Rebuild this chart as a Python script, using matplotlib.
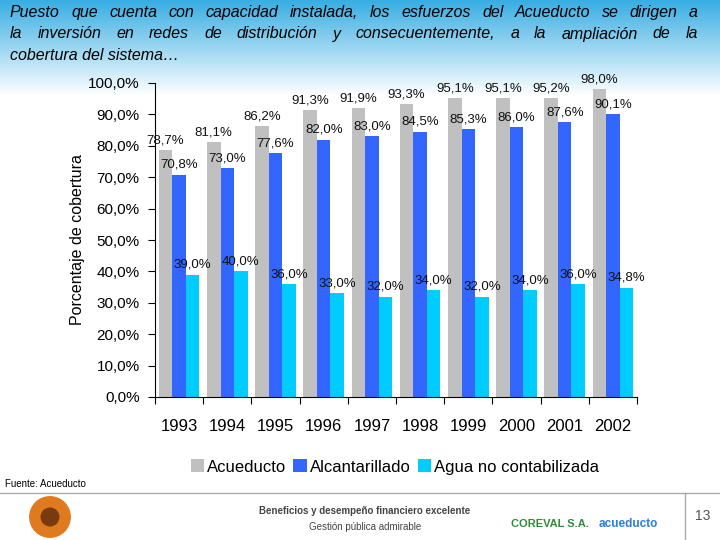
import numpy as np
import matplotlib
matplotlib.use("Agg")
import matplotlib.pyplot as plt
from matplotlib.patches import Circle, Patch

years = ["1993", "1994", "1995", "1996", "1997", "1998", "1999", "2000", "2001", "2002"]
acueducto = [78.7, 81.1, 86.2, 91.3, 91.9, 93.3, 95.1, 95.1, 95.2, 98.0]
alcantarillado = [70.8, 73.0, 77.6, 82.0, 83.0, 84.5, 85.3, 86.0, 87.6, 90.1]
agua_no_contab = [39.0, 40.0, 36.0, 33.0, 32.0, 34.0, 32.0, 34.0, 36.0, 34.8]

series = [
    ("Acueducto", acueducto, "#c0c0c0"),
    ("Alcantarillado", alcantarillado, "#3366ff"),
    ("Agua no contabilizada", agua_no_contab, "#00ccff"),
]

plt.rcParams["font.family"] = ["Liberation Sans", "DejaVu Sans"]

fig = plt.figure(figsize=(7.2, 5.4), dpi=100)

# ── background gradient (blue at top fading to white) ────────────────────────
bg = fig.add_axes([0, 0, 1, 1], zorder=-10)
h = 540
grad = np.ones((h, 1, 3))
top = np.array([0.22, 0.68, 0.89])
fade = 95
for i in range(fade):
    t = i / fade
    grad[i, 0, :] = top * (1 - t) + np.array([1.0, 1.0, 1.0]) * t
bg.imshow(grad, aspect="auto", extent=[0, 1, 0, 1])
bg.set_axis_off()

# ── title (justified like the slide) ─────────────────────────────────────────
title_lines = [
    "Puesto que cuenta con capacidad instalada, los esfuerzos del Acueducto se dirigen a",
    "la inversión en redes de distribución y consecuentemente, a la ampliación de la",
    "cobertura del sistema…",
]
renderer = fig.canvas.get_renderer()
x0, x1 = 10 / 720, 698 / 720
for k, line in enumerate(title_lines):
    y = 1 - (17 + 21.5 * k) / 540
    if k == len(title_lines) - 1:
        fig.text(x0, y, line, fontsize=11.5, style="italic", va="baseline", ha="left")
        continue
    words = line.split(" ")
    objs = [fig.text(0, y, w, fontsize=11.5, style="italic", va="baseline", ha="left") for w in words]
    widths = [o.get_window_extent(renderer).width / 720 for o in objs]
    gap = (x1 - x0 - sum(widths)) / (len(words) - 1)
    x = x0
    for o, w in zip(objs, widths):
        o.set_x(x)
        x += w + gap

# ── bar chart ────────────────────────────────────────────────────────────────
ax = fig.add_axes([155 / 720, 1 - 397 / 540, 482 / 720, 314 / 540])
ax.set_facecolor("none")
x = np.arange(len(years))
bw = 0.28
for i, (name, vals, col) in enumerate(series):
    pos = x + (i - 1) * bw
    ax.bar(pos, vals, width=bw, color=col, label=name, zorder=2)
    for px, v in zip(pos, vals):
        ax.text(px, v + 1.2, f"{v:.1f}%".replace(".", ","), ha="center", va="bottom",
                fontsize=9.5, color="#111111", zorder=3)

ax.set_xlim(-0.5, len(years) - 0.5)
ax.set_ylim(0, 100)
ax.set_yticks(np.arange(0, 101, 10))
ax.set_yticklabels([f"{v:.1f}%".replace(".", ",") for v in np.arange(0, 101, 10)], fontsize=11)
ax.set_xticks(np.arange(-0.5, len(years), 1))
ax.set_xticklabels([])
ax.set_xticks(x, minor=True)
ax.set_xticklabels(years, minor=True, fontsize=12)
ax.tick_params(axis="x", which="minor", length=0, pad=16)
ax.tick_params(axis="x", which="major", length=5, direction="out")
ax.tick_params(axis="y", length=5, direction="out", pad=6)
for s in ["top", "right"]:
    ax.spines[s].set_visible(False)
ax.set_ylabel("Porcentaje de cobertura", fontsize=11.5, labelpad=2)

handles = [Patch(facecolor=c, edgecolor="none") for _, _, c in series]
fig.legend(handles, [n for n, _, _ in series], loc="center", bbox_to_anchor=(395 / 720, 1 - 467 / 540),
           ncol=3, frameon=False, fontsize=12, handlelength=0.8, handleheight=0.8,
           handletextpad=0.2, columnspacing=0.4)

fig.text(5 / 720, 1 - 484 / 540, "Fuente: Acueducto", fontsize=7, va="center")

# ── footer ───────────────────────────────────────────────────────────────────
bg.plot([0, 1], [1 - 493 / 540] * 2, color="#aaaaaa", lw=1)
bg.plot([685 / 720] * 2, [0, 1 - 493 / 540], color="#aaaaaa", lw=1)
bg.set_xlim(0, 1)
bg.set_ylim(0, 1)
fig.text(365 / 720, 1 - 511 / 540, "Beneficios y desempeño financiero excelente",
         fontsize=7, fontweight="bold", color="#444444", ha="center", va="center")
fig.text(365 / 720, 1 - 527 / 540, "Gestión pública admirable",
         fontsize=7, color="#444444", ha="center", va="center")
fig.text(703 / 720, 1 - 516 / 540, "13", fontsize=10, color="#555555", ha="center", va="center")
logo = fig.add_axes([28 / 720, 0, 44 / 720, 46 / 540])
logo.add_patch(Circle((0.5, 0.5), 0.46, color="#e07a1f"))
logo.add_patch(Circle((0.5, 0.5), 0.2, color="#7a3a10"))
logo.set_xlim(0, 1)
logo.set_ylim(0, 1)
logo.set_aspect("equal")
logo.set_axis_off()
fig.text(550 / 720, 1 - 524 / 540, "COREVAL S.A.", fontsize=8, fontweight="bold",
         color="#2e8b3a", ha="center", va="center")
fig.text(628 / 720, 1 - 524 / 540, "acueducto", fontsize=8.5, fontweight="bold",
         color="#2a7de1", ha="center", va="center")

fig.savefig("out.png", dpi=100)
